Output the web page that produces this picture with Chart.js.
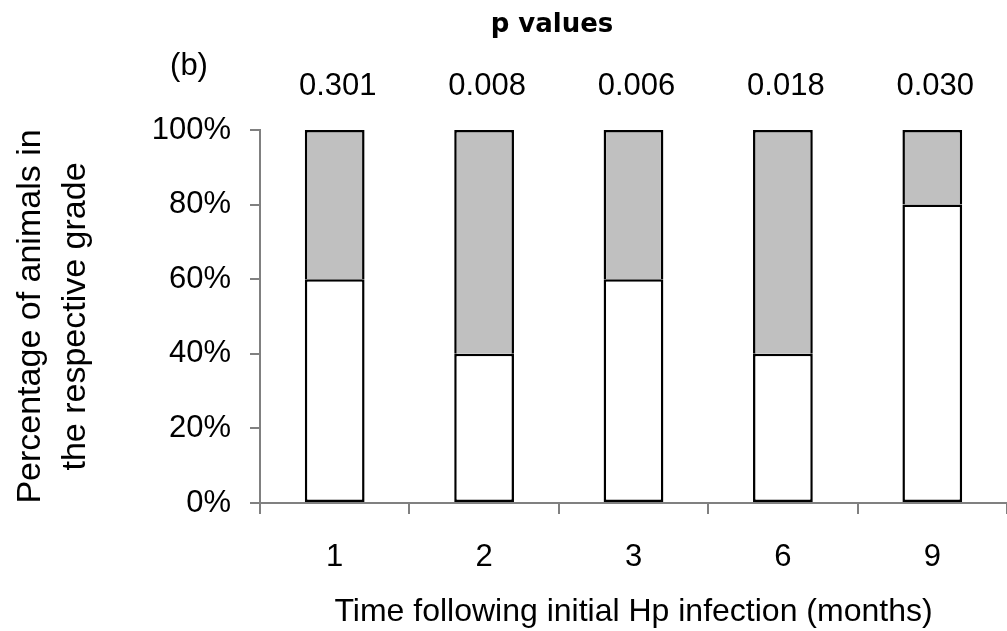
<!DOCTYPE html>
<html>
<head>
<meta charset="utf-8">
<script src="https://cdn.jsdelivr.net/npm/chart.js@4/dist/chart.umd.min.js"></script>
<style>
    html, body { margin: 0; padding: 0; background: #fff; }
    #wrap { width: 1007px; height: 631px; }
</style>
</head>
<body>
<div id="wrap"><canvas id="gradeChart" width="1007" height="631"></canvas></div>
<script>
// data
const months = ['1', '2', '3', '6', '9'];
const lowerGrade = [60, 40, 60, 40, 80];
const upperGrade = [40, 60, 40, 60, 20];
const pValues = ['0.301', '0.008', '0.006', '0.018', '0.030'];
const yTickValues = [0, 20, 40, 60, 80, 100];

const FONT = "'Liberation Sans', Arial, sans-serif";
const AXIS_GREY = '#808080';

document.addEventListener('DOMContentLoaded', () => {
    const ctx = document.getElementById('gradeChart').getContext('2d');

    Chart.defaults.color = '#000';
    Chart.defaults.font.family = FONT;

    // p values row, title and panel letter
    const annotations = {
        id: 'annotations',
        afterDraw(chart) {
            const c = chart.ctx;
            const x = chart.scales.x;
            const top = chart.chartArea.top;
            c.save();
            c.fillStyle = '#000';
            c.font = '31px ' + FONT;
            c.textAlign = 'center';
            c.textBaseline = 'middle';
            pValues.forEach((p, i) => {
                c.fillText(p, x.getPixelForValue(i) + 3, top - 44);
            });
            c.fillText('(b)', 189, 66);

            c.font = "bold 26px 'DejaVu Sans', sans-serif";
            c.textBaseline = 'alphabetic';
            c.fillText('p values', 552, 32);
            c.restore();
        }
    };

    new Chart(ctx, {
        type: 'bar',
        data: {
            labels: months,
            datasets: [
                {
                    label: 'lower',
                    data: lowerGrade,
                    backgroundColor: '#ffffff',
                    borderColor: '#000',
                    borderWidth: 2.5,
                    borderSkipped: false,
                    stack: 's'
                },
                {
                    label: 'upper',
                    data: upperGrade,
                    backgroundColor: '#c0c0c0',
                    borderColor: '#000',
                    borderWidth: 2.5,
                    borderSkipped: 'bottom',
                    stack: 's'
                }
            ]
        },
        options: {
            responsive: false,
            animation: false,
            layout: {
                padding: { top: 130, left: 0, right: -4, bottom: 0 }
            },
            plugins: {
                legend: { display: false },
                tooltip: { enabled: false }
            },
            datasets: {
                bar: { categoryPercentage: 1, barPercentage: 0.4 }
            },
            scales: {
                x: {
                    stacked: true,
                    afterFit: (s) => { s.height = 128; },
                    border: { color: AXIS_GREY, width: 2 },
                    grid: {
                        drawOnChartArea: false,
                        drawTicks: true,
                        tickLength: 11,
                        color: AXIS_GREY,
                        lineWidth: 2
                    },
                    ticks: {
                        font: { size: 31 },
                        padding: 25,
                        maxRotation: 0,
                        autoSkip: false
                    },
                    title: {
                        display: true,
                        text: 'Time following initial Hp infection (months)',
                        font: { size: 32 },
                        padding: { top: 0, bottom: 0 }
                    }
                },
                y: {
                    stacked: true,
                    min: 0,
                    max: 100,
                    afterFit: (s) => { s.width = 260; },
                    afterBuildTicks: (s) => {
                        s.ticks = yTickValues.map(v => ({ value: v }));
                    },
                    border: { color: AXIS_GREY, width: 2 },
                    grid: {
                        drawOnChartArea: false,
                        drawTicks: true,
                        tickLength: 10,
                        color: AXIS_GREY,
                        lineWidth: 2
                    },
                    ticks: {
                        font: { size: 31 },
                        padding: 19,
                        callback: (v) => v + '%'
                    },
                    title: {
                        display: true,
                        text: ['Percentage of animals in', 'the respective grade'],
                        font: { size: 34, lineHeight: 1.32 },
                        padding: { top: 8, bottom: 0 }
                    }
                }
            }
        },
        plugins: [annotations]
    });
});
</script>
</body>
</html>
